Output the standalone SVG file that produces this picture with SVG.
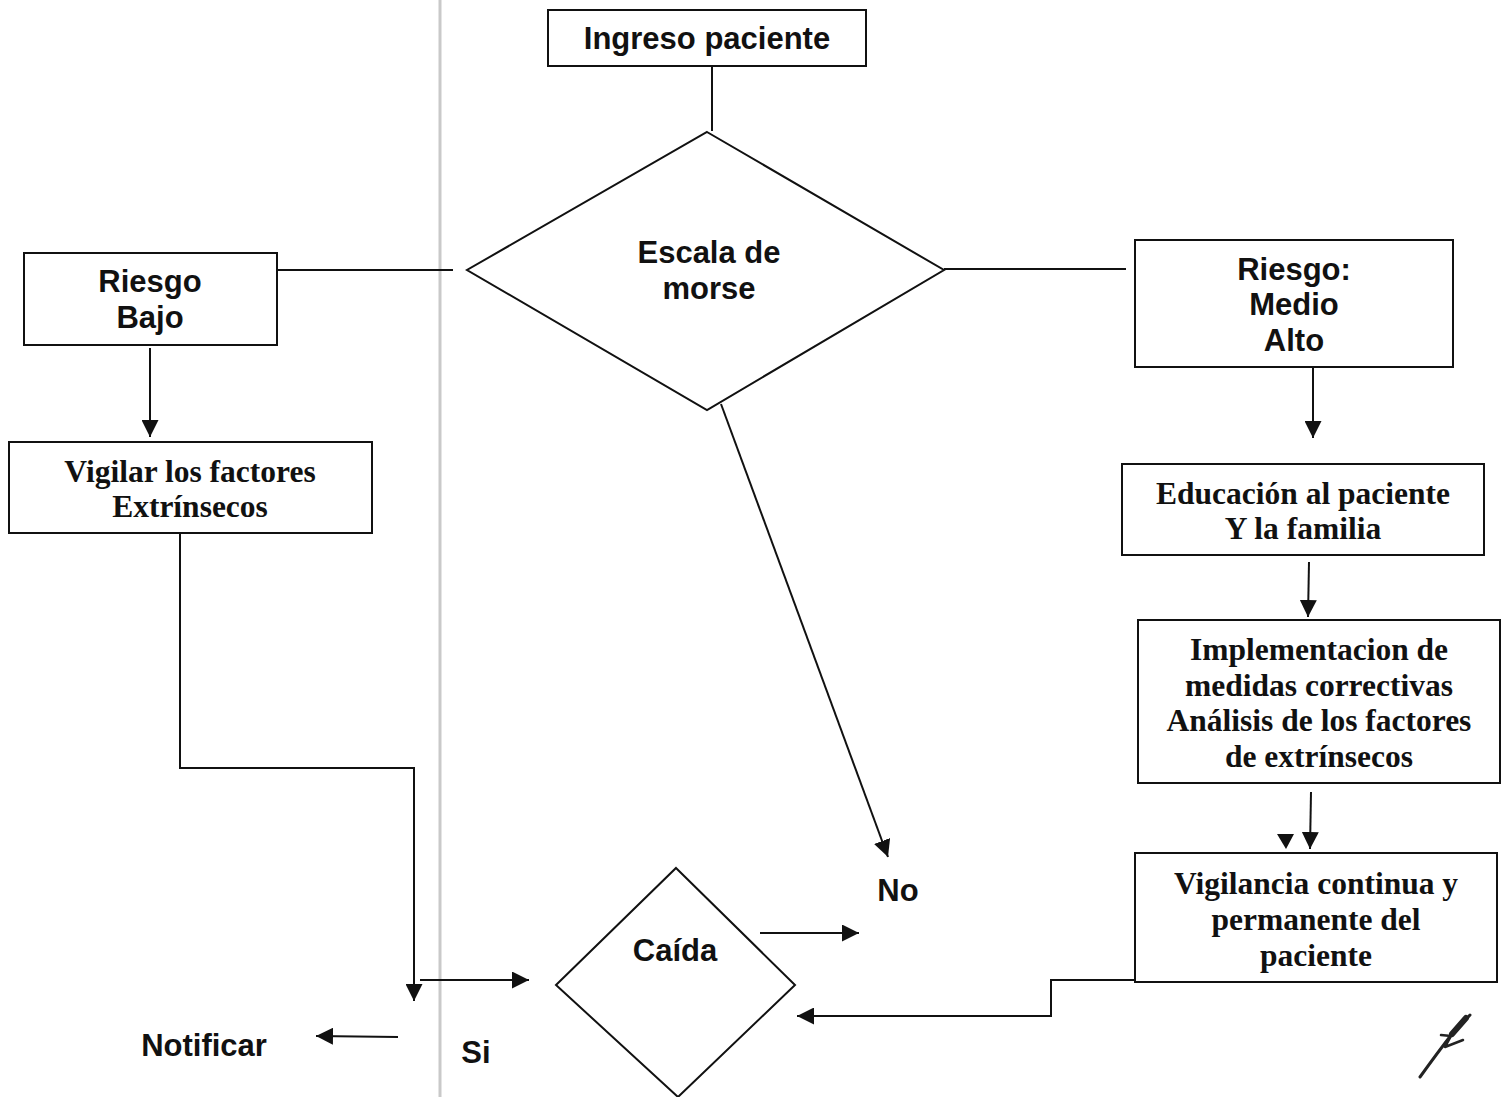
<svg xmlns="http://www.w3.org/2000/svg" width="1507" height="1097" viewBox="0 0 1507 1097">
<defs>
<style>
.box{fill:#fff;stroke:#111;stroke-width:2}
.sans{font-family:"Liberation Sans",Arial,sans-serif;font-weight:bold;font-size:31px;fill:#111;text-anchor:middle}
.serif{font-family:"Liberation Serif","Times New Roman",serif;font-weight:bold;font-size:31.5px;fill:#111;text-anchor:middle}
.ln{fill:none;stroke:#111;stroke-width:2}
</style>
<marker id="ah" viewBox="0 0 10 10" refX="10" refY="5" markerWidth="17" markerHeight="17" markerUnits="userSpaceOnUse" orient="auto">
<path d="M0,0 L10,5 L0,10 Z" fill="#111"/>
</marker>
</defs>
<rect width="1507" height="1097" fill="#fff"/>
<line x1="440" y1="0" x2="440" y2="1097" stroke="#c9c9c9" stroke-width="3"/>

<g id="connectors">
<line class="ln" x1="712" y1="66" x2="712" y2="131"/>
<line class="ln" x1="277" y1="270" x2="453" y2="270"/>
<line class="ln" x1="944" y1="269" x2="1126" y2="269"/>
<line class="ln" x1="150" y1="348" x2="150" y2="437" marker-end="url(#ah)"/>
<polyline class="ln" points="180,533 180,768 414,768 414,1001" marker-end="url(#ah)"/>
<line class="ln" x1="420" y1="980" x2="529" y2="980" marker-end="url(#ah)"/>
<line class="ln" x1="721" y1="404" x2="888" y2="857" marker-end="url(#ah)"/>
<line class="ln" x1="760" y1="933" x2="859" y2="933" marker-end="url(#ah)"/>
<line class="ln" x1="1313" y1="368" x2="1313" y2="438" marker-end="url(#ah)"/>
<line class="ln" x1="1309" y1="562" x2="1308" y2="617" marker-end="url(#ah)"/>
<line class="ln" x1="1311" y1="792" x2="1310" y2="849" marker-end="url(#ah)"/>
<path d="M1277,834 L1294,834 L1286,849 Z" fill="#111"/>
<polyline class="ln" points="1305,980 1051,980 1051,1016 797,1016" marker-end="url(#ah)"/>
<line x1="1136" y1="980" x2="1305" y2="980" stroke="#333" stroke-width="3"/>
<line class="ln" x1="398" y1="1037" x2="316" y2="1036" marker-end="url(#ah)"/>
</g>

<g id="n-ingreso">
<rect class="box" x="548" y="10" width="318" height="56"/>
<text class="sans" x="707" y="49">Ingreso paciente</text>
</g>
<g id="n-escala">
<polygon class="box" points="707,132 944,270 707,410 467,270"/>
<text class="sans" x="709" y="263">Escala de</text>
<text class="sans" x="709" y="299">morse</text>
</g>
<g id="n-bajo">
<rect class="box" x="24" y="253" width="253" height="92"/>
<text class="sans" x="150" y="292">Riesgo</text>
<text class="sans" x="150" y="328">Bajo</text>
</g>
<g id="n-vigilar">
<rect class="box" x="9" y="442" width="363" height="91"/>
<text class="serif" x="190" y="482">Vigilar los factores</text>
<text class="serif" x="190" y="517">Extrínsecos</text>
</g>
<g id="n-medio">
<rect class="box" x="1135" y="240" width="318" height="127"/>
<text class="sans" x="1294" y="280">Riesgo:</text>
<text class="sans" x="1294" y="315">Medio</text>
<text class="sans" x="1294" y="351">Alto</text>
</g>
<g id="n-educacion">
<rect class="box" x="1122" y="464" width="362" height="91"/>
<text class="serif" x="1303" y="504">Educación al paciente</text>
<text class="serif" x="1303" y="539">Y la familia</text>
</g>
<g id="n-implementacion">
<rect class="box" x="1138" y="620" width="362" height="163"/>
<text class="serif" x="1319" y="660">Implementacion de</text>
<text class="serif" x="1319" y="696">medidas correctivas</text>
<text class="serif" x="1319" y="731">Análisis de los factores</text>
<text class="serif" x="1319" y="767">de extrínsecos</text>
</g>
<g id="n-vigilancia">
<rect class="box" x="1135" y="853" width="362" height="129"/>
<text class="serif" x="1316" y="894">Vigilancia continua y</text>
<text class="serif" x="1316" y="930">permanente del</text>
<text class="serif" x="1316" y="966">paciente</text>
</g>
<g id="n-caida">
<polygon class="box" points="676,868 795,985 678,1097 556,985"/>
<text class="sans" x="675" y="961">Caída</text>
</g>
<g id="n-no">
<text class="sans" x="898" y="901">No</text>
</g>
<g id="n-si">
<text class="sans" x="476" y="1063">Si</text>
</g>
<g id="n-notificar">
<text class="sans" x="204" y="1056">Notificar</text>
</g>
<g id="signature" fill="none" stroke="#222" stroke-linecap="round" stroke-linejoin="round">
<path d="M1420,1077 Q1438,1052 1452,1034 L1470,1015" stroke-width="3"/>
<path d="M1452,1034 L1466,1018" stroke-width="6"/>
<path d="M1441,1035 L1451,1036 L1445,1047 L1463,1040" stroke-width="2.5"/>
</g>
</svg>
